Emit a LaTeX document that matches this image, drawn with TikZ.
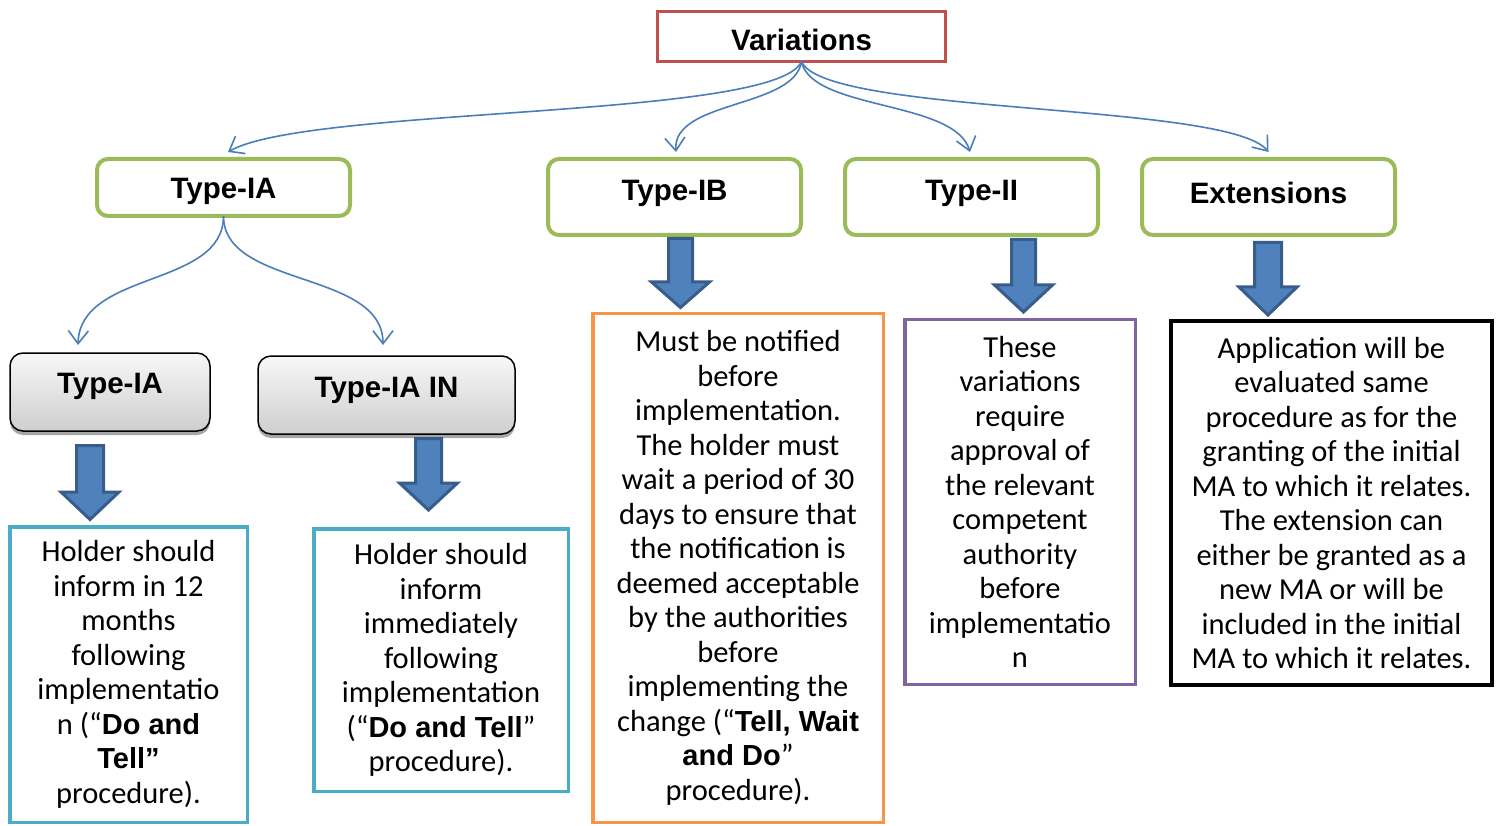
\documentclass[tikz,border=0pt]{standalone}
\usepackage{fontspec}
\setmainfont{Carlito}
\newfontfamily\headfont{Liberation Sans}
\usetikzlibrary{arrows.meta,shadows}

\definecolor{vred}{HTML}{C0504D}
\definecolor{vgreen}{HTML}{9BBB59}
\definecolor{vcyan}{HTML}{4BACC6}
\definecolor{vorange}{HTML}{F79646}
\definecolor{vpurple}{HTML}{8064A2}
\definecolor{linkblue}{HTML}{4A7EBB}
\definecolor{fatfill}{HTML}{4F81BD}
\definecolor{fatedge}{HTML}{385D8A}

% bold phrases inside the body text
\newcommand\hb[1]{{\headfont\bfseries\fontsize{29}{34.5}\selectfont #1}}

% thick downward block arrow: centre x, top y, head start y, tip y, half shaft width
\newcommand\downblock[5]{%
  \draw[fatarrow] ({#1-#5},#2) -- ({#1+#5},#2) -- ({#1+#5},#3) -- ({#1+29},#3)
    -- (#1,#4) -- ({#1-29},#3) -- ({#1-#5},#3) -- cycle;}

\tikzset{
  every node/.style={inner sep=0pt, outer sep=0pt},
  title/.style={font=\headfont\bfseries\fontsize{29.5}{34}\selectfont},
  body/.style={font=\fontsize{30.5}{34.5}\selectfont, align=center},
  redbox/.style={draw=vred, line width=3pt, minimum width=288pt, minimum height=50pt},
  greenbox/.style={draw=vgreen, line width=4pt, rounded corners=11pt, minimum width=253pt},
  greybox/.style={draw=black, line width=1.5pt, rounded corners=13pt,
    top color=gray!6, bottom color=gray!38, minimum height=78pt,
    drop shadow={shadow xshift=0pt, shadow yshift=-4pt, fill=gray!70, opacity=1}},
  textbox/.style={body, line width=3.5pt},
  link/.style={draw=linkblue, line width=1.6pt, -{Straight Barb[length=13pt,width=20pt,line width=1.6pt]}},
  fatarrow/.style={fill=fatfill, draw=fatedge, line width=3pt, line join=miter},
}

\begin{document}
\begin{tikzpicture}[x=1pt, y=-1pt]
\useasboundingbox[fill=white] (0,0) rectangle (1502,826);

% root
\node[redbox] (var) at (801.5,36.5) {};
\node[title] (var-t) at (801.5,40) {Variations};

% first level
\node[greenbox, minimum height=57pt] (ia) at (223.5,187.5) {};
\node[title] (ia-t) at (223.5,191) {Type-IA};
\node[greenbox, minimum height=76pt] (ib) at (674.5,197) {};
\node[title] (ib-t) at (674.5,193) {Type-IB};
\node[greenbox, minimum height=76pt] (ii) at (971.5,197) {};
\node[title] (ii-t) at (971.5,193) {Type-II};
\node[greenbox, minimum height=76pt] (ext) at (1268.5,197) {};
\node[title] (ext-t) at (1268.5,193) {Extensions};

% Type-IA sub-types
\node[greybox, minimum width=200pt] (ia1) at (110,392) {};
\node[title] (ia1-t) at (110,386) {Type-IA};
\node[greybox, minimum width=257pt] (ia2) at (386.5,395) {};
\node[title] (ia2-t) at (386.5,390) {Type-IA IN};

% descriptions
\node[textbox, draw=vcyan, minimum width=237.5pt, minimum height=295.5pt] (d1) at (128.5,674.5)
  {Holder should\\ inform in 12\\ months\\ following\\ implementatio\\ n (“\hb{Do and}\\ \hb{Tell”}\\ procedure).};
\node[textbox, draw=vcyan, minimum width=254.5pt, minimum height=262.5pt] (d2) at (441,660)
  {Holder should\\ inform\\ immediately\\ following\\ implementation\\ (“\hb{Do and Tell}”\\ procedure).};
\node[textbox, draw=vorange, minimum width=290.5pt, minimum height=508.5pt] (d3) at (738,568)
  {Must be notified\\ before\\ implementation.\\ The holder must\\ wait a period of 30\\ days to ensure that\\ the notification is\\ deemed acceptable\\ by the authorities\\ before\\ implementing the\\ change (“\hb{Tell, Wait}\\ \hb{and Do}”\\ procedure).};
\node[textbox, draw=vpurple, minimum width=230.5pt, minimum height=364.5pt] (d4) at (1020,502)
  {These\\ variations\\ require\\ approval of\\ the relevant\\ competent\\ authority\\ before\\ implementatio\\ n};
\node[textbox, draw=black, line width=4pt, minimum width=321pt, minimum height=364pt] (d5) at (1331.5,503)
  {Application will be\\ evaluated same\\ procedure as for the\\ granting of the initial\\ MA to which it relates.\\ The extension can\\ either be granted as a\\ new MA or will be\\ included in the initial\\ MA to which it relates.};

% curved links from the root
\draw[link] (var.south) .. controls +(-25,58) and +(80,-46) .. ([xshift=4.5pt,yshift=7pt]ia.north);
\draw[link] (var.south) .. controls +(-7,47) and +(-4,-52) .. ([xshift=1.5pt,yshift=7pt]ib.north);
\draw[link] (var.south) .. controls +(10,49) and +(-15,-52) .. ([xshift=-1.5pt,yshift=7pt]ii.north);
\draw[link] (var.south) .. controls +(23,54) and +(-40,-50) .. ([yshift=7pt]ext.north);

% curved links from Type-IA
\draw[link] (ia.south) .. controls +(0,72) and +(2,-75) .. ([xshift=-32pt,yshift=8pt]ia1.north);
\draw[link] (ia.south) .. controls +(0,72) and +(0,-75) .. ([xshift=-3.5pt,yshift=11pt]ia2.north);

% block arrows into the descriptions
\downblock{90}{445.5}{492}{519.5}{13.5}
\downblock{428.5}{438.5}{483}{510}{13}
\downblock{680.5}{238.5}{282}{307.5}{12}
\downblock{1023.5}{239.5}{285}{312}{12}
\downblock{1268}{242.5}{287}{315}{13.5}
\end{tikzpicture}
\end{document}
